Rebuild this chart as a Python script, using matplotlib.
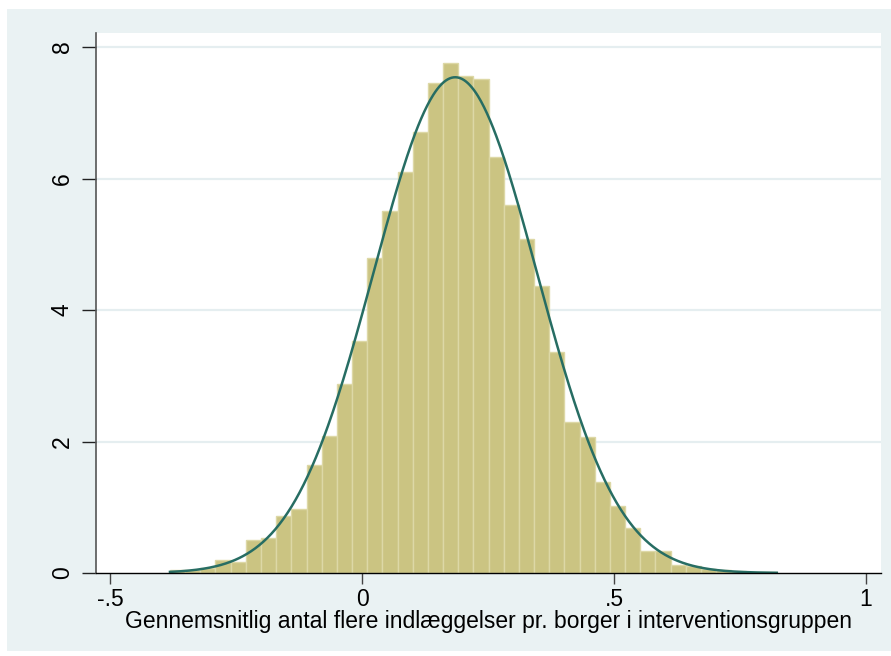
import numpy as np
import matplotlib
matplotlib.use("Agg")
import matplotlib.pyplot as plt
from matplotlib.patches import Rectangle

plt.rcParams['font.family'] = ['Liberation Sans', 'DejaVu Sans']

# Histogram: 40 equal-width bins over the observed range
bin_start = -0.381
bin_end = 0.823
density = [0.05, 0.04, 0.07, 0.20, 0.16, 0.50, 0.53, 0.86, 0.98, 1.64,
           2.08, 2.88, 3.53, 4.79, 5.50, 6.10, 6.70, 7.45, 7.75, 7.56,
           7.51, 6.32, 5.60, 5.08, 4.37, 3.36, 2.29, 2.07, 1.39, 1.02,
           0.69, 0.34, 0.34, 0.12, 0.10, 0.06, 0.04, 0.03, 0.01, 0.01]

# Normal density overlay (centre, spread, peak height)
norm_mean = 0.185
norm_sd = 0.162
norm_peak = 7.54

x_ticks = [-0.5, 0, 0.5, 1]
x_tick_labels = ["-.5", "0", ".5", "1"]
y_ticks = [0, 2, 4, 6, 8]
y_tick_labels = ["0", "2", "4", "6", "8"]
x_label = "Gennemsnitlig antal flere indlæggelser pr. borger i interventionsgruppen"

W, H = 891, 656
fig = plt.figure(figsize=(W / 100, H / 100), dpi=100, facecolor="white")

# Light graph region behind the plot
fig.patches.append(Rectangle((7 / W, 5 / H), 1 - 7 / W, (H - 9 - 5) / H,
                             transform=fig.transFigure, facecolor="#EAF2F3",
                             edgecolor="none", zorder=0))

ax = fig.add_axes([96 / W, (H - 573) / H, (881 - 96) / W, (573 - 33) / H])
ax.set_facecolor("white")
ax.set_zorder(1)

n = len(density)
edges = np.linspace(bin_start, bin_end, n + 1)
width = edges[1] - edges[0]
ax.bar(edges[:-1], density, width=width, align="edge",
       color="#CBC482", edgecolor="#DDD8A6", linewidth=1.0, zorder=2)

xs = np.linspace(bin_start, bin_end, 600)
ys = norm_peak * np.exp(-0.5 * ((xs - norm_mean) / norm_sd) ** 2)
ax.plot(xs, ys, color="#276D63", linewidth=1.8, zorder=3)

ax.set_xlim(-0.5278, 1.0298)
ax.set_ylim(0, 8.213)

# Horizontal grid lines (not at zero)
for yv in y_ticks[1:]:
    ax.axhline(yv, color="#E5EEF0", linewidth=1.6, zorder=1)

for side in ["top", "right"]:
    ax.spines[side].set_visible(False)
ax.spines["left"].set_color("#555555")
ax.spines["left"].set_linewidth(1.2)
ax.spines["bottom"].set_color("black")
ax.spines["bottom"].set_linewidth(1.0)
ax.spines["bottom"].set_zorder(4)

ax.set_xticks(x_ticks)
ax.set_xticklabels(x_tick_labels, fontsize=16.5)
ax.set_yticks(y_ticks)
ax.set_yticklabels(y_tick_labels, fontsize=16.5, rotation=90, va="center")
ax.tick_params(axis="x", length=8, width=1.0, color="#444444", pad=3)
ax.tick_params(axis="y", length=10, width=1.0, color="#222222", pad=6)

ax.set_xlabel(x_label, fontsize=16.5, labelpad=-1)

fig.savefig("out.png", dpi=100, facecolor="white")
